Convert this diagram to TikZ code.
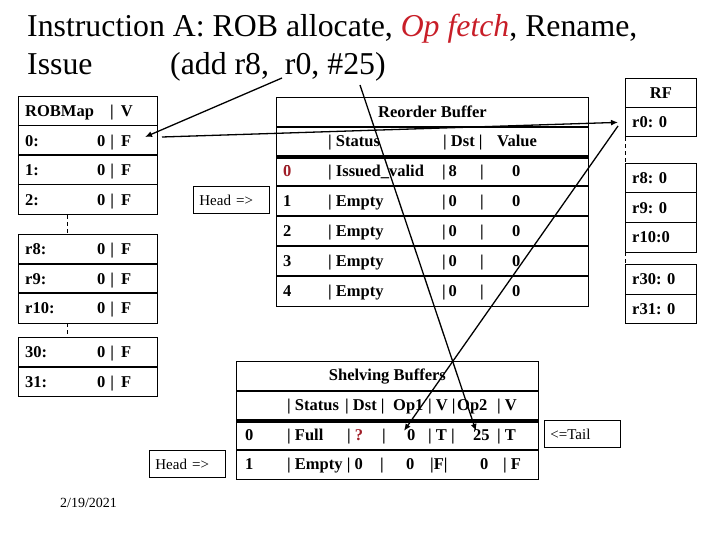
\documentclass[tikz,border=0pt]{standalone}
\usepackage{fontspec}
\setmainfont{Liberation Serif}
\usepackage{xcolor}
\usepackage{tikz}
\usetikzlibrary{arrows.meta, positioning}
\definecolor{opred}{RGB}{200,30,40}
\definecolor{idxred}{RGB}{160,30,40}

\begin{document}
\begin{tikzpicture}[x=1pt, y=-1pt,
  every node/.style={font=\bfseries\fontsize{16.5}{19}\selectfont},
  cell/.style={draw, line width=0.8pt, anchor=north west, inner sep=0pt, minimum height=29.5pt},
  txt/.style={anchor=base west, inner sep=0pt},
  tag/.style={draw, line width=0.8pt, anchor=north west, inner xsep=6pt, inner ysep=0pt,
    text width=64pt, align=left, minimum height=27pt, font=\fontsize{15}{17}\selectfont},
  sep/.style={line width=1.8pt},
  bar/.style={line width=4pt},
  gap/.style={dashed, line width=0.8pt, dash pattern=on 4pt off 3pt},
  ptr/.style={-{Latex[length=7pt,width=6pt]}, line width=1.3pt}]
  \useasboundingbox (0,0) rectangle (720,540);

  % Title
  \node[anchor=base west, inner sep=0pt, font=\fontsize{31.8}{36}\selectfont] (t1) at (27,37)
    {Instruction A: ROB allocate, \textcolor{opred}{\itshape Op fetch}, Rename,};
  \node[anchor=base west, inner sep=0pt, font=\fontsize{31.8}{36}\selectfont] (t2) at (27,75) {Issue};
  \node[anchor=base west, inner sep=0pt, font=\fontsize{31.8}{36}\selectfont] (t3) at (170,75)
    {(add r8,\ \ r0, \#25)};
  \coordinate (src8) at (282,78);
  \coordinate (src25) at (360,85);

  % ROB map (left)
  \node[cell, minimum width=139pt] (mh) at (18,96) {};
  \node[txt] (mh-l) at ([xshift=7pt,yshift=-5.5pt]mh.west) {ROBMap};
  \node[txt] (mh-v) at ([xshift=92pt,yshift=-5.5pt]mh.west) {|\hspace{7pt}V};
  \foreach \n/\t/\lab in {m0/125.5/0:, m1/155/1:, m2/184.5/2:, m8/234/r8:, m9/263.5/r9:,
                          m10/293/r10:, m30/337/30:, m31/366.5/31:} {
    \node[cell, minimum width=139pt] (\n) at (18,\t) {};
    \node[txt] (\n-l) at ([xshift=7pt,yshift=-5.5pt]\n.west) {\lab};
    \node[txt] (\n-v) at ([xshift=79pt,yshift=-5.5pt]\n.west) {0\hspace{5pt}|\hspace{7pt}F};
  }
  \foreach \n in {m0, m1, m2, m9, m10, m31} \draw[sep] (\n.north west) -- (\n.north east);
  \draw[gap] (67,215) -- (67,234);
  \draw[gap] (67,323) -- (67,337);

  % Reorder buffer (middle)
  \node[cell, minimum width=312pt, minimum height=29pt] (rh) at (276,97) {Reorder Buffer};
  \node[cell, minimum width=312pt, minimum height=30pt] (rc) at (276,126) {};
  \node[txt] (rc-s) at (328,146.5) {| Status};
  \node[txt] (rc-d) at (443,146.5) {| Dst |};
  \node[txt] (rc-v) at (497,146.5) {Value};
  \foreach \i/\t/\st/\d in {0/156/Issued\_valid/8, 1/186/Empty/0, 2/216/Empty/0,
                            3/246/Empty/0, 4/276/Empty/0} {
    \node[cell, minimum width=312pt, minimum height=29.8pt] (r\i) at (276,\t) {};
    \node[txt] (r\i-i) at (283,\t+20.5) {\i};
    \node[txt] (r\i-s) at (328,\t+20.5) {| \st};
    \node[txt] (r\i-d) at (442,\t+20.5) {|\,\d};
    \node[txt] (r\i-b) at (480,\t+20.5) {|};
    \node[txt] (r\i-v) at (512,\t+20.5) {0};
  }
  \node[txt, fill=white, text=idxred] at (r0-i.base west) {0};
  \draw[sep] (rh.south west) -- (rh.south east);
  \draw[bar] (rc.south west) -- (rc.south east);
  \foreach \i in {1,...,4} \draw[sep] (r\i.north west) -- (r\i.north east);
  \node[tag] (rhead) at (193,186) {Head =>};

  % Register file (right)
  \node[cell, minimum width=71pt] (rfh) at (625,78) {RF};
  \foreach \n/\t/\lab in {rf0/107/r0: 0, rf8/163/r8: 0, rf9/192.5/r9: 0, rf10/222/r10:0,
                          rf30/264/r30: 0, rf31/293.5/r31: 0} {
    \node[cell, minimum width=71pt] (\n) at (625,\t) {};
    \node[txt] (\n-l) at ([xshift=7pt,yshift=-5.5pt]\n.west) {\lab};
  }
  \draw[gap] (rf0.south west) -- (rf8.north west);
  \draw[gap] (rf10.south west) -- (rf30.north west);

  % Shelving buffers (bottom)
  \node[cell, minimum width=302pt] (sh) at (236,361) {Shelving Buffers};
  \node[cell, minimum width=302pt] (sc) at (236,390.5) {};
  \node[txt] (sc-a) at (287,410.5) {| Status};
  \node[txt] (sc-b) at (345,410.5) {| Dst |};
  \node[txt] (sc-c) at (393,410.5) {Op1};
  \node[txt] (sc-d) at (428,410.5) {| V |};
  \node[txt] (sc-e) at (457,410.5) {Op2};
  \node[txt] (sc-f) at (497,410.5) {| V};
  \node[cell, minimum width=302pt] (s0) at (236,420) {};
  \node[txt] (s0-i) at (245,440) {0};
  \node[txt] (s0-s) at (287,440) {| Full};
  \node[txt] (s0-d) at (347,440) {| \textcolor{idxred}{?}};
  \node[txt] (s0-b) at (382,440) {|};
  \node[txt] (s0-o) at (407,440) {0};
  \node[txt] (s0-v) at (428,440) {| T |};
  \node[txt] (s0-p) at (473,440) {25};
  \node[txt] (s0-w) at (497,440) {| T};
  \node[cell, minimum width=302pt] (s1) at (236,449.5) {};
  \node[txt] (s1-i) at (245,469.5) {1};
  \node[txt] (s1-s) at (287,469.5) {| Empty | 0};
  \node[txt] (s1-b) at (380,469.5) {|};
  \node[txt] (s1-o) at (406,469.5) {0};
  \node[txt] (s1-v) at (430,469.5) {|F|};
  \node[txt] (s1-p) at (480,469.5) {0};
  \node[txt] (s1-w) at (503,469.5) {| F};
  \draw[sep] (sh.south west) -- (sh.south east);
  \draw[bar] (sc.south west) -- (sc.south east);
  \draw[sep] (s1.north west) -- (s1.north east);
  \node[tag] (shead) at (149,450) {Head =>};
  \node[tag] (stail) at (544,420) {<=Tail};

  \node[anchor=west, inner sep=0pt, font=\fontsize{14}{16}\selectfont] (date) at (60,503) {2/19/2021};

  % Rename and operand fetch
  \coordinate (m0in) at (145,137);
  \coordinate (m0out) at (162,137);
  \coordinate (rf0out) at (618,126);
  \draw[ptr] (src8) -- (m0in);
  \draw[ptr, shorten >=7pt] (m0out) -- (rf0.west);
  \draw[ptr] (rf0out) -- ([xshift=-3pt,yshift=-2pt]s0-o.north west);
  \draw[ptr] (src25) -- ([xshift=3pt,yshift=-2pt]s0-p.north west);
\end{tikzpicture}
\end{document}
